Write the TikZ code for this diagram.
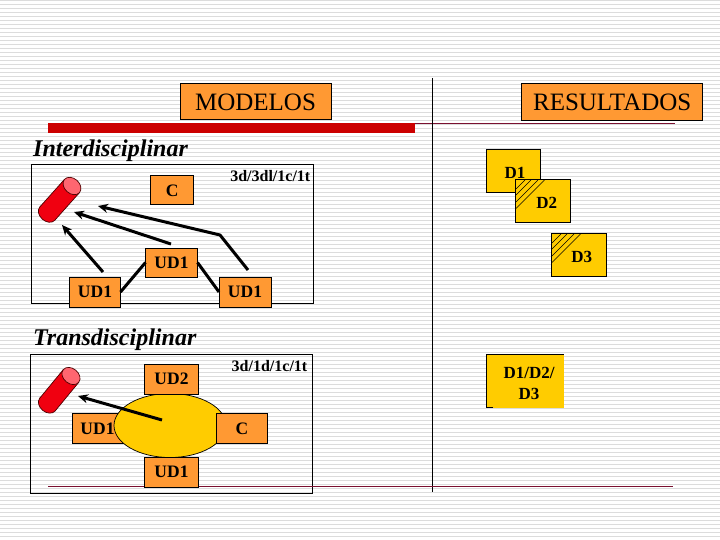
\documentclass[tikz,border=0pt]{standalone}
\usepackage{fontspec}
\setmainfont{Liberation Serif}
\usetikzlibrary{arrows.meta,shapes.geometric}
\definecolor{orangebox}{HTML}{FF9933}
\definecolor{goldbox}{HTML}{FFCC00}
\definecolor{barred}{HTML}{CC0000}
\definecolor{thinred}{HTML}{7A1030}
\definecolor{stripe}{HTML}{DCDCDC}
\definecolor{cylred}{HTML}{F00010}
\definecolor{cyltop}{HTML}{FF6670}
\newcommand{\fs}[1]{\fontsize{#1}{#1}\selectfont}
\tikzset{
  x=1pt,y=-1pt,
  boxbase/.style={inner sep=0pt,outer sep=0pt,line width=1pt,draw=black},
  headbox/.style={boxbase,fill=orangebox,font=\fs{25}},
  udbox/.style={boxbase,fill=orangebox,font=\bfseries\fs{17.5}},
  dbox/.style={boxbase,fill=goldbox,minimum width=54.5pt,minimum height=42.5pt,font=\bfseries\fs{17},text height=15.5pt,text depth=0.5pt},
  sect/.style={anchor=base west,inner sep=0pt,font=\bfseries\itshape\fs{24}},
  codes/.style={inner sep=0pt,font=\bfseries\fs{16}},
  framebox/.style={line width=1pt,draw=black},
  thinline/.style={draw=thinred,line width=0.9pt},
  flow/.style={line width=3pt,draw=black,-{Stealth[length=10pt,width=9pt]}},
  link/.style={line width=3pt,draw=black},
  hatch/.style={line width=0.6pt,draw=black},
  cylbody/.style={fill=cylred,draw=black!70!red,line width=0.7pt},
  cylcap/.style={fill=cyltop,draw=black!70!red,line width=0.7pt},
  cylinderpic/.pic={
    \path[cylbody] (0,37) ellipse (10 and 7.5);
    \fill[cylred] (-10,0) rectangle (10,37);
    \draw[cylbody,fill=none] (-10,0) -- (-10,37) (10,0) -- (10,37);
    \path[cylcap] (0,0) ellipse (10 and 7.5);
  },
}
\begin{document}
\begin{tikzpicture}
\useasboundingbox (0,0) rectangle (720,540);
\fill[white] (0,0) rectangle (720,540);
\foreach \yy in {0,4,...,540} \draw[stripe,line width=1.4pt] (0,\yy+0.7) -- (720,\yy+0.7);

% dividing and decorative lines
\coordinate (vtop) at (432.5,78);
\coordinate (vbot) at (432.5,492);
\coordinate (topl) at (180,123.5);
\coordinate (topr) at (675,123.5);
\coordinate (botl) at (48,486.5);
\coordinate (botr) at (673,486.5);
\draw[thinline] (topl) -- (topr);
\fill[barred] (48,123) rectangle (415,133);
\draw[line width=1pt] (vtop) -- (vbot);

% headers
\node[headbox,minimum width=151pt,minimum height=36pt] (modelos) at (255.5,102) {MODELOS};
\node[headbox,minimum width=180.5pt,minimum height=36.5pt] (resultados) at (612.2,102.2) {RESULTADOS};

% Interdisciplinar
\node[sect] (inter) at (33,156.5) {Interdisciplinar};
\draw[framebox] (31.5,165) rectangle (313.5,303);
\node[codes,anchor=east] (code1) at (310.5,176.5) {3d/3dl/1c/1t};
\node[udbox,minimum width=42.5pt,minimum height=29pt] (c1) at (172.2,190.5) {C};
\pic[rotate=-41.8] at (72,186) {cylinderpic};
\node[udbox,minimum width=52pt,minimum height=29pt] (m1) at (171.5,262.5) {UD1};
\node[udbox,minimum width=51pt,minimum height=30pt] (l1) at (95,292) {UD1};
\node[udbox,minimum width=52pt,minimum height=30pt] (r1) at (245,292) {UD1};
\draw[link] (l1.east) -- (m1.west);
\draw[link] (m1.east) -- (r1.west);
\coordinate (a1s) at (103,272);
\coordinate (a1e) at (62,225);
\coordinate (a2s) at (171,244);
\coordinate (a2e) at (74,212);
\coordinate (a3s) at (248,270);
\coordinate (a3m) at (220,235);
\coordinate (a3e) at (98,206);
\draw[flow] (a1s) -- (a1e);
\draw[flow] (a2s) -- (a2e);
\draw[flow,line join=round] (a3s) -- (a3m) -- (a3e);

% Transdisciplinar
\node[sect] (trans) at (33,345) {Transdisciplinar};
\draw[framebox] (30.5,354.5) rectangle (312.5,493);
\node[codes,anchor=east] (code2) at (307.5,366.5) {3d/1d/1c/1t};
\draw[thinline] (botl) -- (botr);
\pic[rotate=-39.5] at (71,376) {cylinderpic};
\node[udbox,minimum width=52pt,minimum height=29.5pt] (l2) at (98.5,428.7) {\hspace{-2pt}UD1\hspace{2pt}};
\node[draw=black,line width=0.7pt,fill=goldbox,ellipse,minimum width=112pt,minimum height=64pt,inner sep=0pt] (hub) at (170,425.5) {};
\node[udbox,minimum width=54pt,minimum height=30pt] (u2) at (171.5,379) {UD2};
\node[udbox,minimum width=51pt,minimum height=29.5pt] (c2) at (242,428.7) {C};
\node[udbox,minimum width=54pt,minimum height=30pt] (b2) at (171.5,472) {UD1};
\coordinate (a4s) at (162,420);
\coordinate (a4e) at (78,396);
\draw[flow] (a4s) -- (a4e);

% Results
\node[dbox] (d1) at (513.5,171.2) {\hspace{3pt}D1};
\node[dbox] (d2) at (543.2,201.2) {\hspace{7pt}D2};
\node[dbox] (d3) at (579.2,255.2) {\hspace{5pt}D3};
\foreach \bx/\by in {516/180,552/234}{
  \foreach \o in {9,15,22,28.5}
    \draw[hatch] (\bx+\o,\by) -- (\bx,\by+\o);
}
\fill[goldbox] (486,354) rectangle (564,408);
\draw[line width=1pt] (493,407.5) -- (486.5,407.5) -- (486.5,354.5) -- (564,354.5);
\node[inner sep=0pt,align=center,font=\bfseries\fs{17}] (d123) at (529,383.5) {D1/D2/\\[4pt]D3};
\end{tikzpicture}
\end{document}
